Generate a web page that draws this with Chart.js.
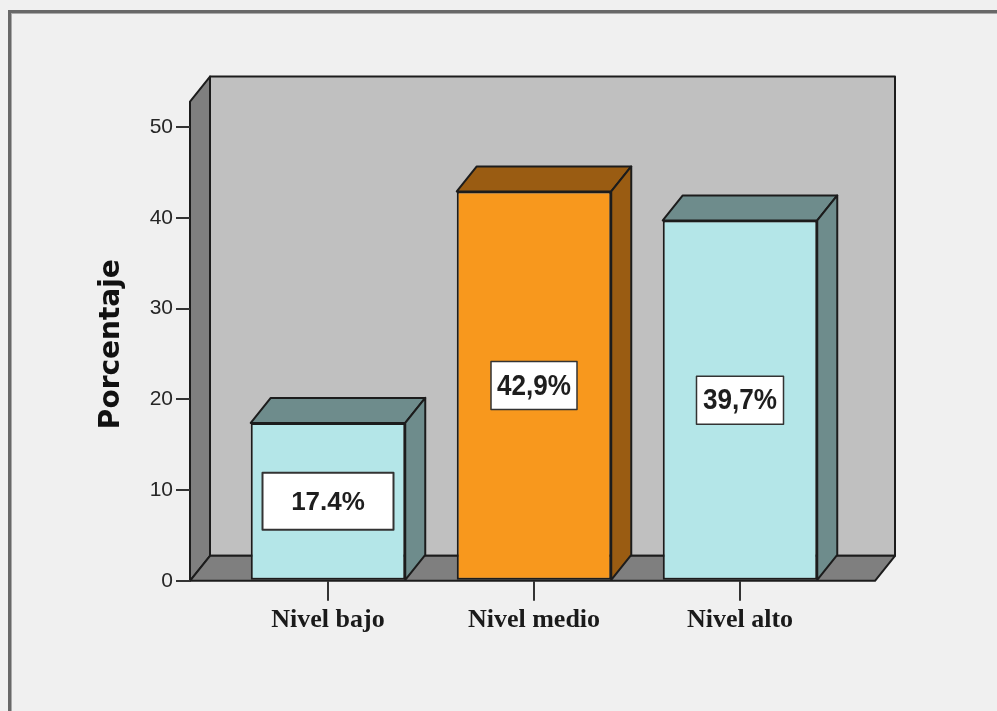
<!DOCTYPE html>
<html>
<head>
<meta charset="utf-8">
<script src="https://cdn.jsdelivr.net/npm/chart.js@4.4.1/dist/chart.umd.min.js"></script>
<style>
    html, body { margin: 0; padding: 0; background: #f0f0f0; }
    #wrap { width: 997px; height: 711px; }
</style>
</head>
<body>
<div id="wrap"><canvas id="levelChart" width="997" height="711"></canvas></div>
<script>
const categories = ["Nivel bajo", "Nivel medio", "Nivel alto"];
const percentages = [17.4, 42.9, 39.7];
const valueLabels = ["17.4%", "42,9%", "39,7%"];
const yMin = 0;
const yMax = 50;
const yStep = 10;
const wallTopValue = 52.8;

// colours per bar: front face, side/top faces
const frontColors = ["#b4e6e8", "#f8981d", "#b4e6e8"];
const sideColors = ["#6e8c8c", "#9a5c12", "#6e8c8c"];

// value label boxes (width, height, max text width, font)
const labelStyles = [
    { w: 131, h: 57, textW: 76, font: "bold 26px 'Liberation Sans', Arial, sans-serif", line: 2 },
    { w: 86, h: 48, textW: 74, font: "bold 29px 'Liberation Sans Narrow', 'Liberation Sans', sans-serif", line: 1.5 },
    { w: 87, h: 48, textW: 74, font: "bold 29px 'Liberation Sans Narrow', 'Liberation Sans', sans-serif", line: 1.5 }
];

const DEPTH_X = 20;
const DEPTH_Y = 25;
const INNER_LEFT = 35;
const INNER_RIGHT = 32;
const EDGE = "#1c1c1c";

function poly(ctx, pts, fill) {
    ctx.beginPath();
    ctx.moveTo(pts[0][0], pts[0][1]);
    for (let i = 1; i < pts.length; i++) {
        ctx.lineTo(pts[i][0], pts[i][1]);
    }
    ctx.closePath();
    ctx.fillStyle = fill;
    ctx.fill();
    ctx.stroke();
}

const frame3d = {
    id: "frame3d",
    afterLayout(chart) {
        // bars sit inside the floor, not touching the walls
        const x = chart.scales.x;
        const area = chart.chartArea;
        x.left = area.left + INNER_LEFT;
        x.right = area.right - INNER_RIGHT;
        x.width = x.right - x.left;
        x.configure();
    },
    beforeDraw(chart) {
        const ctx = chart.ctx;
        const area = chart.chartArea;
        const y = chart.scales.y;
        const top = y.getPixelForValue(wallTopValue);
        const base = y.getPixelForValue(0);

        ctx.save();
        ctx.fillStyle = "#f0f0f0";
        ctx.fillRect(0, 0, chart.width, chart.height);

        // window frame lines
        ctx.fillStyle = "#686868";
        ctx.fillRect(8, 10, chart.width - 8, 3);
        ctx.fillRect(8, 10, 3, chart.height - 10);
        ctx.fillStyle = "#a9a9a9";
        ctx.fillRect(11, 13, chart.width - 11, 1);
        ctx.fillRect(11, 13, 1, chart.height - 13);

        ctx.strokeStyle = EDGE;
        ctx.lineWidth = 2;
        ctx.lineJoin = "round";

        // back wall
        poly(ctx, [
            [area.left + DEPTH_X, top - DEPTH_Y],
            [area.right + DEPTH_X, top - DEPTH_Y],
            [area.right + DEPTH_X, base - DEPTH_Y],
            [area.left + DEPTH_X, base - DEPTH_Y]
        ], "#c0c0c0");

        // side wall
        poly(ctx, [
            [area.left, base],
            [area.left, top],
            [area.left + DEPTH_X, top - DEPTH_Y],
            [area.left + DEPTH_X, base - DEPTH_Y]
        ], "#7f7f7f");

        // floor
        poly(ctx, [
            [area.left, base],
            [area.right, base],
            [area.right + DEPTH_X, base - DEPTH_Y],
            [area.left + DEPTH_X, base - DEPTH_Y]
        ], "#7f7f7f");
        ctx.restore();
    },
    afterDatasetsDraw(chart) {
        const ctx = chart.ctx;
        const meta = chart.getDatasetMeta(0);
        ctx.save();
        ctx.strokeStyle = EDGE;
        ctx.lineWidth = 2;
        ctx.lineJoin = "round";

        meta.data.forEach(function (bar, i) {
            const left = bar.x - bar.width / 2;
            const right = bar.x + bar.width / 2;

            // top face
            poly(ctx, [
                [left, bar.y],
                [left + DEPTH_X, bar.y - DEPTH_Y],
                [right + DEPTH_X, bar.y - DEPTH_Y],
                [right, bar.y]
            ], sideColors[i]);

            // side face
            poly(ctx, [
                [right, bar.y],
                [right + DEPTH_X, bar.y - DEPTH_Y],
                [right + DEPTH_X, bar.base - DEPTH_Y],
                [right, bar.base]
            ], sideColors[i]);
        });

        // value labels in the middle of each bar
        meta.data.forEach(function (bar, i) {
            const st = labelStyles[i];
            const cx = bar.x;
            const cy = (bar.y + bar.base) / 2;
            ctx.fillStyle = "#ffffff";
            ctx.strokeStyle = "#333333";
            ctx.lineWidth = st.line;
            ctx.fillRect(cx - st.w / 2, cy - st.h / 2, st.w, st.h);
            ctx.strokeRect(cx - st.w / 2, cy - st.h / 2, st.w, st.h);

            ctx.fillStyle = "#1e1e1e";
            ctx.font = st.font;
            ctx.textAlign = "center";
            ctx.textBaseline = "middle";
            ctx.fillText(valueLabels[i], cx, cy + 1, st.textW);
        });
        ctx.restore();
    }
};

new Chart(document.getElementById("levelChart"), {
    type: "bar",
    data: {
        labels: categories,
        datasets: [{
            label: "Porcentaje",
            data: percentages,
            backgroundColor: frontColors,
            borderColor: EDGE,
            borderWidth: 2,
            borderSkipped: false,
            categoryPercentage: 1,
            barPercentage: 0.75
        }]
    },
    options: {
        responsive: false,
        animation: false,
        plugins: {
            legend: { display: false },
            tooltip: { enabled: false }
        },
        layout: {
            padding: { top: 127, right: 122, bottom: 71, left: 0 }
        },
        scales: {
            y: {
                min: yMin,
                max: yMax,
                afterFit: function (scale) {
                    scale.width = 190;
                },
                ticks: {
                    stepSize: yStep,
                    padding: 3,
                    color: "#262626",
                    font: { family: "'Liberation Sans', Arial, sans-serif", size: 21 }
                },
                title: {
                    display: true,
                    // leading spaces nudge the rotated title up a little, like the original
                    text: "  Porcentaje",
                    color: "#111111",
                    padding: { top: 95, bottom: 0 },
                    font: { family: "'DejaVu Sans', sans-serif", size: 28, weight: "bold" }
                },
                grid: {
                    drawOnChartArea: false,
                    tickLength: 14,
                    color: "#333333",
                    lineWidth: 2
                },
                border: { display: false }
            },
            x: {
                offset: true,
                ticks: {
                    padding: 4,
                    color: "#1a1a1a",
                    font: { family: "'Liberation Serif', 'Times New Roman', serif", size: 26, weight: "bold" }
                },
                grid: {
                    offset: false,
                    drawOnChartArea: false,
                    tickLength: 20,
                    color: "#333333",
                    lineWidth: 2
                },
                border: { display: false }
            }
        }
    },
    plugins: [frame3d]
});
</script>
</body>
</html>
